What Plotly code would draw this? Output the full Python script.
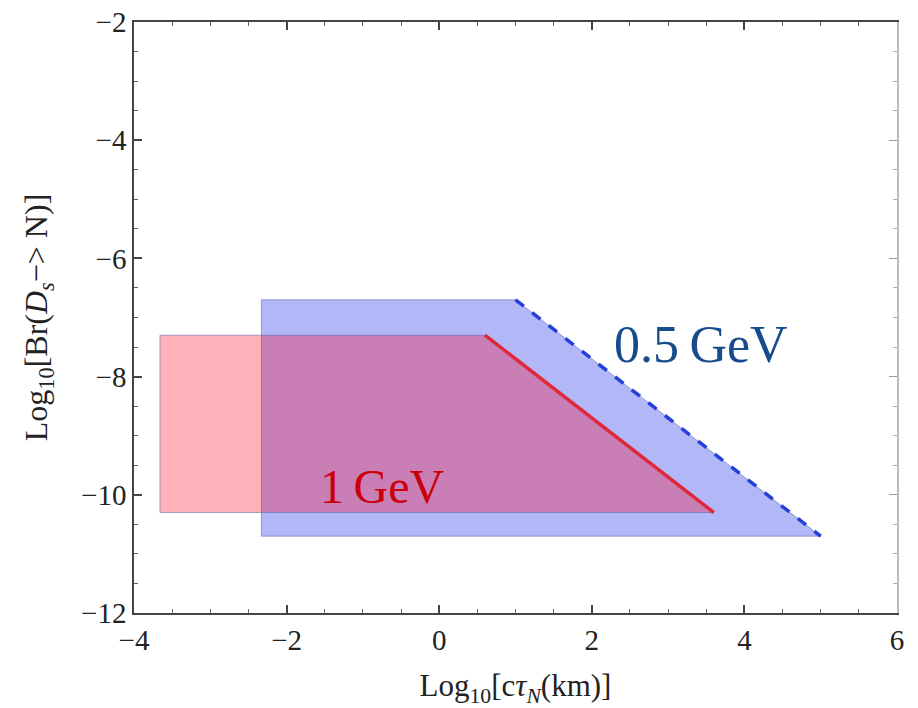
import plotly.graph_objects as go

# Region 1 GeV (red)
red_x = [-3.66, 0.6, 3.6, -3.66, -3.66]
red_y = [-7.3, -7.3, -10.3, -10.3, -7.3]
red_line_x = [0.6, 3.6]
red_line_y = [-7.3, -10.3]

# Region 0.5 GeV (blue)
blue_x = [-2.33, 1.0, 5.0, -2.33, -2.33]
blue_y = [-6.7, -6.7, -10.7, -10.7, -6.7]
blue_line_x = [1.0, 5.0]
blue_line_y = [-6.7, -10.7]

labels = ["0.5\u2009GeV", "1\u2009GeV"]
label_x = [3.43, -0.74]
label_y = [-7.45, -9.86]

x_range = [-4, 6]
y_range = [-12, -2]

SERIF = "Liberation Serif, Times New Roman, serif"

fig = go.Figure()
fig.add_trace(go.Scatter(x=blue_x, y=blue_y, fill="toself", mode="lines",
                         fillcolor="rgba(0,15,232,0.30)",
                         line=dict(color="rgba(90,100,170,0.55)", width=1),
                         hoverinfo="skip", showlegend=False))
fig.add_trace(go.Scatter(x=red_x, y=red_y, fill="toself", mode="lines",
                         fillcolor="rgba(255,0,25,0.30)",
                         line=dict(color="rgba(90,100,170,0.55)", width=1),
                         hoverinfo="skip", showlegend=False))
fig.add_trace(go.Scatter(x=red_line_x, y=red_line_y, mode="lines",
                         line=dict(color="#E0283C", width=3.5),
                         showlegend=False))
fig.add_trace(go.Scatter(x=blue_line_x, y=blue_line_y, mode="lines",
                         line=dict(color="#2440D8", width=3.5, dash="dash"),
                         showlegend=False))
# right frame (lighter)
fig.add_trace(go.Scatter(x=[None], y=[None], yaxis="y2", showlegend=False))

fig.add_annotation(x=label_x[0], y=label_y[0], text=labels[0], showarrow=False,
                   font=dict(family=SERIF, size=52, color="rgb(22,75,140)"))
fig.add_annotation(x=label_x[1], y=label_y[1], text=labels[1], showarrow=False,
                   font=dict(family=SERIF, size=48, color="rgb(204,0,10)"))

TICKFONT = dict(family=SERIF, size=29, color="#222")
TITLEFONT = dict(family=SERIF, size=31, color="#222")

fig.update_layout(
    width=918, height=708,
    margin=dict(l=134, r=21, t=22, b=95, autoexpand=False),
    paper_bgcolor="white", plot_bgcolor="white",
    font=dict(family=SERIF, size=28, color="#222"),
    xaxis=dict(range=x_range, dtick=2, tick0=-4, showgrid=False, zeroline=False,
               automargin=False,
               showline=True, linecolor="#444", linewidth=1.5, mirror="ticks",
               ticks="inside", ticklen=8, tickcolor="#444", tickwidth=1.5,
               minor=dict(dtick=0.5, ticks="inside", ticklen=4, tickcolor="#666", tickwidth=1),
               tickfont=TICKFONT, ticklabelstandoff=0, ticklabeloverflow="allow",
               title=dict(text="Log<sub>10</sub>[c<i>τ</i><sub><i>N</i></sub>(km)]",
                          font=TITLEFONT, standoff=22)),
    yaxis=dict(range=y_range, dtick=2, tick0=-2, showgrid=False, zeroline=False,
               automargin=False,
               showline=True, linecolor="#444", linewidth=1.5,
               ticks="inside", ticklen=8, tickcolor="#444", tickwidth=1.5,
               minor=dict(dtick=0.5, ticks="inside", ticklen=4, tickcolor="#666", tickwidth=1),
               tickfont=TICKFONT, ticklabeloverflow="allow",
               title=dict(text="Log<sub>10</sub>[Br(<i>D</i><sub><i>s</i></sub>−> N)]",
                          font=dict(family=SERIF, size=32, color="#222"), standoff=24)),
    yaxis2=dict(range=y_range, overlaying="y", side="right", dtick=2, tick0=-2,
                automargin=False,
                showgrid=False, zeroline=False, showline=True, linecolor="#bbb",
                linewidth=1.5, ticks="inside", ticklen=8, tickcolor="#999",
                minor=dict(dtick=0.5, ticks="inside", ticklen=4, tickcolor="#aaa"),
                showticklabels=False),
)

fig.write_html("out.html", config={"displayModeBar": False},
               post_script="document.body.style.margin='0';")
